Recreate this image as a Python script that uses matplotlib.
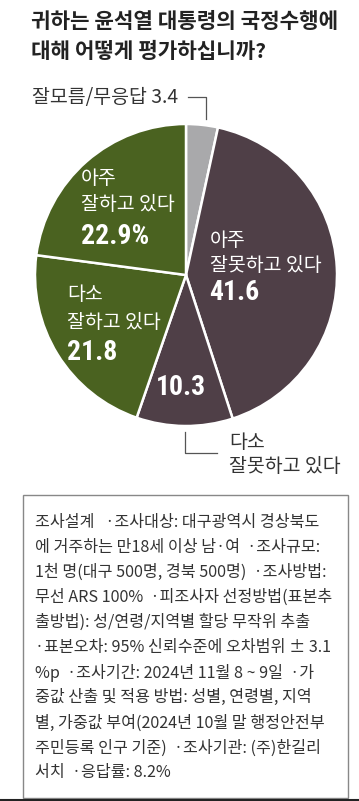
import matplotlib
matplotlib.use("Agg")
import matplotlib.pyplot as plt
from matplotlib.lines import Line2D
from matplotlib.patches import Rectangle

plt.rcParams['font.family'] = ['Noto Sans CJK KR', 'DejaVu Sans']

W, H = 359, 801

title_lines = ["귀하는 윤석열 대통령의 국정수행에", "대해 어떻게 평가하십니까?"]
labels = ["잘모름/무응답", "아주\n잘못하고 있다", "다소\n잘못하고 있다", "다소\n잘하고 있다", "아주\n잘하고 있다"]
values = [3.4, 41.6, 10.3, 21.8, 22.9]
colors = ["#a9a9ab", "#4f3f47", "#4f3f47", "#4a6220", "#4a6220"]

note_lines = [
    "조사설계   ·조사대상: 대구광역시 경상북도",
    "에 거주하는 만18세 이상 남·여  ·조사규모:",
    "1천 명(대구 500명, 경북 500명)  ·조사방법:",
    "무선 ARS 100%  ·피조사자 선정방법(표본추",
    "출방법): 성/연령/지역별 할당 무작위 추출",
    "·표본오차: 95% 신뢰수준에 오차범위 ± 3.1",
    "%p  ·조사기간: 2024년 11월 8 ~ 9일  ·가",
    "중값 산출 및 적용 방법: 성별, 연령별, 지역",
    "별, 가중값 부여(2024년 10월 말 행정안전부",
    "주민등록 인구 기준)  ·조사기관: (주)한길리",
    "서치  ·응답률: 8.2%",
]


def fx(x):
    return x / W


def fy(y):
    return 1 - y / H


def two_line(x, y0, y1, text, color, size):
    a, b = text.split("\n")
    fig.text(fx(x), fy(y0), a, fontsize=size, color=color, va="center", ha="left")
    fig.text(fx(x), fy(y1), b, fontsize=size, color=color, va="center", ha="left")


fig = plt.figure(figsize=(W / 100, H / 100), dpi=100)
fig.patch.set_facecolor("white")

# title
fig.text(fx(31), fy(22), title_lines[0], fontsize=15.3, fontweight="bold",
         color="#222222", va="center", ha="left")
fig.text(fx(31), fy(52), title_lines[1], fontsize=15.3, fontweight="bold",
         color="#222222", va="center", ha="left")

# pie
cx, cy, r = 186, 275, 151
ax = fig.add_axes([fx(cx - r), fy(cy + r), 2 * r / W, 2 * r / H])
ax.pie(values, colors=colors, startangle=90, counterclock=False, radius=1,
       wedgeprops=dict(edgecolor="white", linewidth=1.8))
ax.set_xlim(-1, 1)
ax.set_ylim(-1, 1)
ax.set_aspect("equal")
ax.axis("off")

# outside labels
fig.text(fx(32), fy(98), "%s %.1f" % (labels[0], values[0]), fontsize=14,
         color="#333333", va="center", ha="left")
fig.add_artist(Line2D([fx(188), fx(206), fx(206)], [fy(97), fy(97), fy(119)],
                      color="#555555", lw=0.9))

fig.add_artist(Line2D([fx(185), fx(185), fx(217)], [fy(432), fy(453), fy(453)],
                      color="#555555", lw=0.9))
two_line(229, 442, 466, labels[2], "#333333", 14)

# inside labels (numbers in a narrow bold face)
num_font = dict(family=["Roboto Condensed", "Liberation Sans"], fontweight="bold",
                color="white", va="center", ha="left", fontsize=20)

two_line(81, 178, 205, labels[4], "white", 14)
fig.text(fx(81), fy(237), "%.1f%%" % values[4], **num_font)

two_line(210, 240, 266, labels[1], "white", 14)
fig.text(fx(209), fy(292), "%.1f" % values[1], **num_font)

two_line(67, 295, 322, labels[3], "white", 14)
fig.text(fx(67), fy(353), "%.1f" % values[3], **num_font)

fig.text(fx(156), fy(387), "%.1f" % values[2], **num_font)

# survey note box
fig.add_artist(Rectangle((fx(23), fy(798)), fx(348) - fx(23), fy(495) - fy(798),
                         transform=fig.transFigure, fill=False,
                         edgecolor="#888888", lw=1.0))
for i, line in enumerate(note_lines):
    fig.text(fx(35), fy(522 + i * 25.1), line, fontsize=11.6, color="#333333",
             va="center", ha="left")

fig.add_artist(Line2D([0, 1], [fy(800), fy(800)], color="#222222", lw=1.5))

fig.savefig("out.png", dpi=100, facecolor="white")
